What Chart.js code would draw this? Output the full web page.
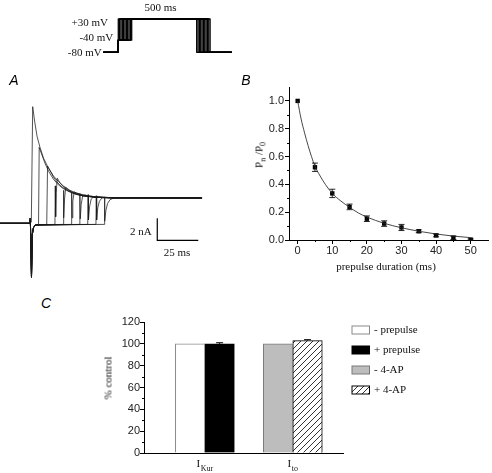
<!DOCTYPE html>
<html lang="en">
<head>
<meta charset="UTF-8">
<title>Prepulse inactivation</title>
<script src="https://cdn.jsdelivr.net/npm/chart.js@4.4.1/dist/chart.umd.min.js"></script>
<style>
  html, body { margin:0; padding:0; background:#fff; }
  #fig { position:relative; width:492px; height:473px; overflow:hidden; }
  #fig canvas { position:absolute; }
  .t { position:absolute; font:11px "Liberation Serif", serif; color:#111; white-space:nowrap; line-height:1; transform:translate(-50%,-50%); }
  .r { transform:translate(-100%,-50%); }
  .rot { transform:translate(-50%,-50%) rotate(-90deg); }
  .panel { font:italic 14px "Liberation Sans", Arial, sans-serif; color:#000; }
  sub { font-size:8px; line-height:0; vertical-align:-3px; }
</style>
</head>
<body>
<div id="fig">
  <canvas id="proto" width="190" height="60" style="left:60px;top:0"></canvas>
  <canvas id="traces" width="210" height="200" style="left:0;top:85px"></canvas>
  <canvas id="decay" width="263" height="205" style="left:229px;top:70px"></canvas>
  <canvas id="bars" width="397" height="178" style="left:95px;top:295px"></canvas>

  <div class="t" style="left:160.5px;top:7px">500 ms</div>
  <div class="t r" style="left:108px;top:22.3px">+30 mV</div>
  <div class="t r" style="left:113.3px;top:37.3px">-40 mV</div>
  <div class="t r" style="left:101.7px;top:52.3px">-80 mV</div>

  <div class="t panel" style="left:14px;top:80px">A</div>
  <div class="t panel" style="left:246px;top:80px">B</div>
  <div class="t panel" style="left:46px;top:303px">C</div>

  <div class="t r" style="left:151.7px;top:231px">2 nA</div>
  <div class="t" style="left:177px;top:251.7px">25 ms</div>

  <div class="t rot" style="left:259px;top:155px">P<sub>n</sub> /P<sub>0</sub></div>
  <div class="t" style="left:386px;top:265.5px">prepulse duration (ms)</div>
  <div class="t rot" style="left:108px;top:378px">% control</div>
</div>

<script>
// ---- voltage protocol (mV); time base is schematic, test pulse drawn compressed
const holdLevel = -80, prepulseLevel = -40, testLevel = 30;
const prepulseDurations = [0, 5, 10, 15, 20, 25, 30, 35, 40, 45, 50];
const protoStart = -56, testDrawn = 292.5, protoEnd = 423;

// ---- panel A: current traces, [ms, nA]
// shared part of the sweeps that sit at -40 mV first
const holdSweep = [[-18.6,0],[-0.4,0],[-0.1,0.45],[0.6,-4.9],[1.1,-1.0],[1.8,-0.4],[3,-0.15]];
const trace0  = [[-18.6,0],[-0.4,0],[0.5,0.1],[1.34,10.6],[2.5,9.3],[4,7.9],[5.8,6.9],[8,5.9],[11,5.0],[14,4.3],[17,3.8],[20,3.4],[24,3.0],[28,2.75],[33,2.55],[40,2.4],[50,2.33],[70,2.3],[104.6,2.3]];
const trace5  = [[4.9,-0.1],[5.3,6.9],[7.5,6.0],[9,5.4],[11,4.75],[14,4.0],[17,3.5],[20,3.15],[24,2.85],[28,2.62],[33,2.46],[40,2.36],[50,2.31],[104.6,2.3]];
const trace10 = [[9.9,-0.1],[10.4,5.2],[12.5,4.65],[14,4.2],[16,3.78],[19,3.32],[23,2.93],[27,2.68],[32,2.5],[40,2.37],[50,2.31],[104.6,2.3]];
const trace15 = [[14.9,-0.1],[15.1,3.4],[15.35,0.6],[15.7,2.8],[16.3,4.1],[18,3.68],[20,3.33],[23,2.98],[27,2.72],[32,2.5],[40,2.37],[50,2.31],[104.6,2.3]];
const trace20 = [[19.9,-0.1],[20.1,3.0],[20.35,0.5],[20.8,2.3],[21.5,3.25],[23,3.05],[25,2.86],[28,2.66],[32,2.5],[40,2.37],[50,2.31],[104.6,2.3]];
const trace25 = [[24.9,-0.1],[25.1,2.8],[25.35,0.5],[25.8,2.0],[26.6,2.85],[28,2.76],[31,2.6],[35,2.46],[42,2.35],[50,2.31],[104.6,2.3]];
const trace30 = [[29.9,-0.1],[30.1,2.7],[30.35,0.4],[30.9,1.7],[31.8,2.5],[33,2.58],[36,2.48],[40,2.4],[50,2.32],[104.6,2.3]];
const trace35 = [[34.9,-0.1],[35.1,2.6],[35.35,0.3],[36,1.5],[37,2.2],[38.5,2.42],[42,2.38],[50,2.32],[104.6,2.3]];
const trace40 = [[39.9,-0.1],[40.1,2.5],[40.35,0.3],[41,1.4],[42,2.0],[43.5,2.3],[46,2.35],[52,2.32],[104.6,2.3]];
const trace45 = [[44.9,-0.1],[45.1,2.4],[45.35,0.2],[46,1.2],[47,1.8],[48.5,2.15],[50.5,2.28],[55,2.3],[104.6,2.3]];
const scaleBarOrigin = [77.3, -1.55], scaleBarMs = 25, scaleBarNA = 2;

// ---- panel B: Pn/P0 vs prepulse duration
const durations = [0, 5, 10, 15, 20, 25, 30, 35, 40, 45, 50];
const pnP0      = [1.0, 0.523, 0.335, 0.238, 0.153, 0.118, 0.09, 0.063, 0.033, 0.016, 0.003];
const pnP0Err   = [0, 0.03, 0.03, 0.02, 0.02, 0.02, 0.022, 0.01, 0.01, 0.012, 0.005];
const fitX = [0, 1, 2, 3, 4, 5, 6.5, 8, 10, 12.5, 15, 17.5, 20, 25, 30, 35, 40, 45, 50];
const fitY = [1.0, 0.87, 0.77, 0.68, 0.6, 0.53, 0.46, 0.4, 0.335, 0.28, 0.235, 0.195, 0.165, 0.12, 0.088, 0.063, 0.043, 0.028, 0.017];

// ---- panel C: % control
const groups = [['I', 'Kur'], ['I', 'to']];
const barLabels = ['- prepulse', '+ prepulse', '- 4-AP', '+ 4-AP'];
const minusPrepulse = [100, null];
const plusPrepulse  = [100, null];
const minus4AP      = [null, 100];
const plus4AP       = [null, 103];
const barErr = [[0, null], [1.0, null], [null, 0], [null, 0.8]];

Chart.defaults.font.family = '"Liberation Sans", Arial, sans-serif';
Chart.defaults.color = '#222';
Chart.defaults.animation = false;

const xy = arr => arr.map(p => ({x: p[0], y: p[1]}));

// short minor tick marks on the outside of the axes
const minorTicks = {
  id: 'minorTicks',
  afterDraw(chart, args, opts) {
    const {ctx, chartArea: a} = chart;
    ctx.save();
    ctx.strokeStyle = '#000';
    ctx.lineWidth = 1;
    (opts.x || []).forEach(v => {
      const px = Math.round(chart.scales.x.getPixelForValue(v)) + 0.5;
      ctx.beginPath(); ctx.moveTo(px, a.bottom); ctx.lineTo(px, a.bottom + opts.len); ctx.stroke();
    });
    (opts.y || []).forEach(v => {
      const py = Math.round(chart.scales.y.getPixelForValue(v)) + 0.5;
      ctx.beginPath(); ctx.moveTo(a.left, py); ctx.lineTo(a.left - opts.len, py); ctx.stroke();
    });
    ctx.restore();
  }
};

function hatch() {
  const c = document.createElement('canvas');
  c.width = 6; c.height = 6;
  const g = c.getContext('2d');
  g.fillStyle = '#fff'; g.fillRect(0, 0, 6, 6);
  g.strokeStyle = '#000'; g.lineWidth = 0.8;
  g.beginPath();
  g.moveTo(0, 6); g.lineTo(6, 0);
  g.moveTo(-1, 1); g.lineTo(1, -1);
  g.moveTo(5, 7); g.lineTo(7, 5);
  g.stroke();
  return g.createPattern(c, 'repeat');
}

const common = {
  responsive: false,
  events: [],
  plugins: { legend: {display: false}, tooltip: {enabled: false} },
  elements: { point: {radius: 0}, line: {borderJoinStyle: 'round', tension: 0} }
};

// ---------- protocol ----------
new Chart(document.getElementById('proto'), {
  type: 'line',
  data: {
    datasets: prepulseDurations.map(d => ({
      data: [
        {x: protoStart, y: holdLevel}, {x: 0, y: holdLevel}, {x: 0, y: prepulseLevel},
        {x: d, y: prepulseLevel}, {x: d, y: testLevel}, {x: d + testDrawn, y: testLevel},
        {x: d + testDrawn, y: holdLevel}, {x: protoEnd, y: holdLevel}
      ],
      borderColor: '#000', borderWidth: 1.3
    }))
  },
  options: {
    ...common,
    layout: {padding: 0},
    scales: {
      x: {type: 'linear', display: false, min: -217.5, max: 491.4},
      y: {display: false, min: -105.4, max: 92.8}
    }
  }
});

// ---------- panel A ----------
const traceSets = [trace0, holdSweep.concat(trace5), holdSweep.concat(trace10), holdSweep.concat(trace15),
  holdSweep.concat(trace20), holdSweep.concat(trace25), holdSweep.concat(trace30), holdSweep.concat(trace35),
  holdSweep.concat(trace40), holdSweep.concat(trace45)];
const [bx, by] = scaleBarOrigin;
new Chart(document.getElementById('traces'), {
  type: 'line',
  data: {
    datasets: traceSets.map(t => ({data: xy(t), borderColor: '#1a1a1a', borderWidth: 0.75}))
      .concat([{data: xy([[bx, by + scaleBarNA], [bx, by], [bx + scaleBarMs, by]]), borderColor: '#000', borderWidth: 1.2, borderJoinStyle: 'miter'}])
  },
  options: {
    ...common,
    layout: {padding: 0},
    scales: {
      x: {type: 'linear', display: false, min: -18.6, max: 109.45},
      y: {display: false, min: -5.61, max: 12.573}
    }
  }
});

// ---------- panel B ----------
const errBarsB = {
  id: 'errBarsB',
  afterDatasetsDraw(chart) {
    const {ctx} = chart, sx = chart.scales.x, sy = chart.scales.y;
    ctx.save();
    ctx.strokeStyle = '#111'; ctx.lineWidth = 0.9;
    durations.forEach((d, i) => {
      if (!pnP0Err[i]) return;
      const x = sx.getPixelForValue(d);
      const y1 = sy.getPixelForValue(pnP0[i] + pnP0Err[i]);
      const y2 = sy.getPixelForValue(pnP0[i] - pnP0Err[i]);
      ctx.beginPath();
      ctx.moveTo(x, y1); ctx.lineTo(x, y2);
      ctx.moveTo(x - 3, y1); ctx.lineTo(x + 3, y1);
      ctx.moveTo(x - 3, y2); ctx.lineTo(x + 3, y2);
      ctx.stroke();
    });
    ctx.restore();
  }
};

const axisStyle = {
  grid: {drawOnChartArea: false, tickLength: 4, color: '#000', lineWidth: 1},
  border: {display: true, color: '#000', width: 1}
};

new Chart(document.getElementById('decay'), {
  type: 'scatter',
  data: {
    datasets: [
      {data: fitX.map((x, i) => ({x, y: fitY[i]})), showLine: true, borderColor: '#333', borderWidth: 0.9,
       cubicInterpolationMode: 'monotone', pointRadius: 0},
      {data: durations.map((x, i) => ({x, y: pnP0[i]})), pointStyle: 'rect', pointRadius: 3.1,
       backgroundColor: '#000', borderColor: '#000', borderWidth: 0}
    ]
  },
  options: {
    ...common,
    layout: {padding: {top: 17, right: 0, left: 0, bottom: 0}},
    scales: {
      x: {
        type: 'linear', min: -2.5, max: 55, ...axisStyle,
        ticks: {stepSize: 10, includeBounds: false, padding: 0, maxRotation: 0, font: {size: 11}},
        afterFit: s => { s.height = 35; s.paddingLeft = 0; s.paddingRight = 0; }
      },
      y: {
        min: 0, max: 1.1, ...axisStyle,
        ticks: {stepSize: 0.2, includeBounds: false, padding: 1, font: {size: 11}, callback: v => v.toFixed(1)},
        afterFit: s => { s.width = 60; s.paddingTop = 0; s.paddingBottom = 0; }
      }
    },
    plugins: {
      ...common.plugins,
      minorTicks: {x: [5, 15, 25, 35, 45], y: [0.1, 0.3, 0.5, 0.7, 0.9], len: 2}
    }
  },
  plugins: [minorTicks, errBarsB]
});

// ---------- panel C ----------
const hatchFill = hatch();
const barFill = ['#fff', '#000', '#bdbdbd', hatchFill];
const barEdge = ['#8a8a8a', '#000', '#7a7a7a', '#000'];
const barSeries = [minusPrepulse, plusPrepulse, minus4AP, plus4AP];

const barExtras = {
  id: 'barExtras',
  afterDatasetsDraw(chart) {
    const {ctx, chartArea: a} = chart, sy = chart.scales.y, sx = chart.scales.x;
    ctx.save();
    // error bars
    ctx.strokeStyle = '#000'; ctx.lineWidth = 1;
    barSeries.forEach((s, k) => {
      const meta = chart.getDatasetMeta(k);
      s.forEach((v, i) => {
        const e = barErr[k][i];
        if (v === null || !e) return;
        const x = meta.data[i].x, y0 = sy.getPixelForValue(v), y1 = sy.getPixelForValue(v + e);
        ctx.beginPath();
        ctx.moveTo(x, y0); ctx.lineTo(x, y1);
        ctx.moveTo(x - 3.5, y1); ctx.lineTo(x + 3.5, y1);
        ctx.stroke();
      });
    });
    // category labels with subscripts
    ctx.fillStyle = '#111';
    ctx.textBaseline = 'alphabetic';
    groups.forEach((g, i) => {
      const cx = sx.getPixelForValue(i);
      ctx.font = '11px "Liberation Serif", serif';
      const w1 = ctx.measureText(g[0]).width;
      ctx.font = '8px "Liberation Serif", serif';
      const w2 = ctx.measureText(g[1]).width;
      const x0 = cx - (w1 + w2 + 0.5) / 2;
      ctx.font = '11px "Liberation Serif", serif';
      ctx.fillText(g[0], x0, a.bottom + 14);
      ctx.font = '8px "Liberation Serif", serif';
      ctx.fillText(g[1], x0 + w1 + 0.5, a.bottom + 18);
    });
    // legend
    ctx.textBaseline = 'middle';
    barLabels.forEach((lab, k) => {
      const ly = a.top + 8 + 20 * k;
      const lx = a.right + 9;
      ctx.fillStyle = barFill[k];
      ctx.fillRect(lx, ly - 4, 17.5, 8);
      ctx.strokeStyle = barEdge[k];
      ctx.lineWidth = 1;
      ctx.strokeRect(lx, ly - 4, 17.5, 8);
      ctx.fillStyle = '#111';
      ctx.font = '11px "Liberation Serif", serif';
      ctx.fillText(lab, lx + 22, ly);
    });
    ctx.restore();
  }
};

new Chart(document.getElementById('bars'), {
  type: 'bar',
  data: {
    datasets: barSeries.map((s, k) => ({
      label: barLabels[k],
      data: groups.map((g, i) => ({x: i, y: s[i]})),
      backgroundColor: barFill[k],
      borderColor: barEdge[k],
      borderWidth: 1,
      barThickness: 29.5,
      skipNull: true
    }))
  },
  options: {
    ...common,
    layout: {padding: {top: 27, right: 149, left: 0, bottom: 0}},
    scales: {
      x: {
        type: 'linear', min: -0.692, max: 1.571, offset: false,
        grid: {display: false, offset: false},
        border: {display: true, color: '#000', width: 1},
        ticks: {display: false},
        afterFit: s => { s.height = 20; s.paddingLeft = 0; s.paddingRight = 0; }
      },
      y: {
        min: 0, max: 120, ...axisStyle,
        ticks: {stepSize: 20, padding: 0, font: {size: 11}},
        afterFit: s => { s.width = 49; s.paddingTop = 0; s.paddingBottom = 0; }
      }
    },
    plugins: {
      ...common.plugins,
      minorTicks: {y: [10, 30, 50, 70, 90, 110], len: 2}
    }
  },
  plugins: [minorTicks, barExtras]
});
</script>
</body>
</html>
